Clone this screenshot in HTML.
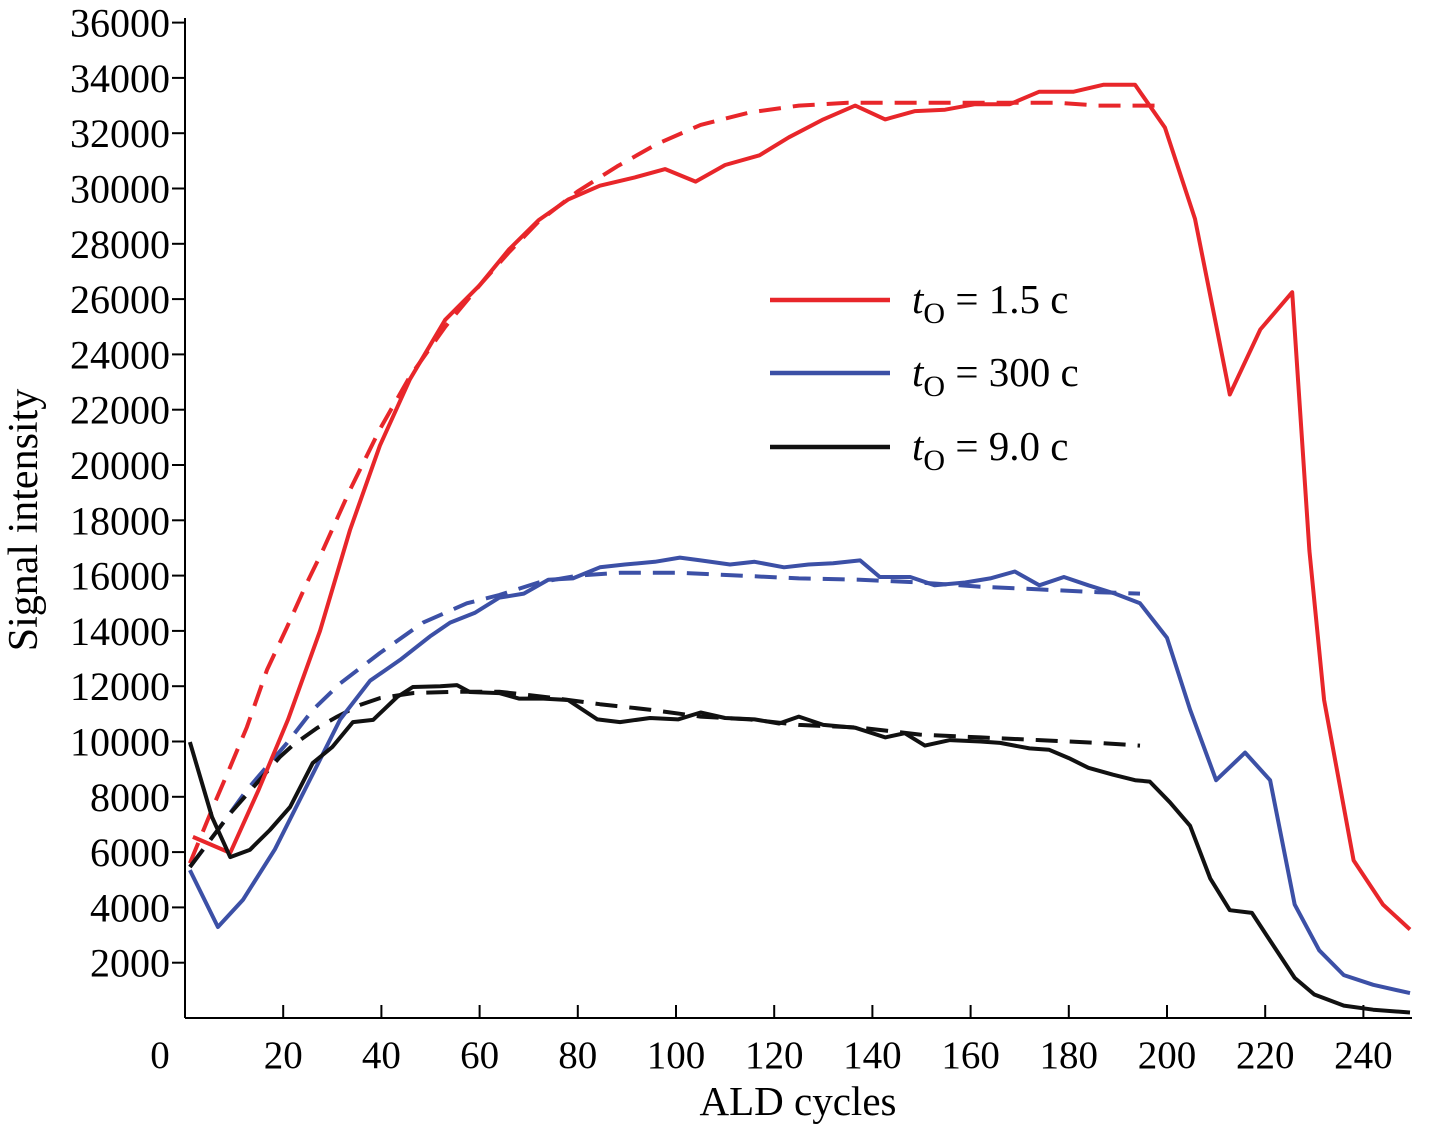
<!DOCTYPE html>
<html><head><meta charset="utf-8"><style>
html,body{margin:0;padding:0;background:#fff;}
svg{display:block;font-family:"Liberation Serif",serif;}
</style></head><body>
<svg id="chart" width="1429" height="1128"></svg>
<script>
const xTicks=[0,20,40,60,80,100,120,140,160,180,200,220,240];
const yTicks=[2000,4000,6000,8000,10000,12000,14000,16000,18000,20000,22000,24000,26000,28000,30000,32000,34000,36000];
const redSolidX=[1.6,9.2,15,21,27.5,33.6,39.7,45.8,53,60,66,72,78,84.5,91.6,97.8,104,110,117,123,130,136.5,142.6,148.7,154.8,160.9,168,174,181,187,193.5,199.6,205.7,209.8,212.8,219,225.5,229,232,238,244,249.5];
const redSolidY=[6550,5970,8250,10800,14000,17650,20700,23100,25250,26500,27800,28850,29600,30100,30400,30700,30250,30850,31200,31850,32500,33000,32500,32800,32850,33050,33050,33500,33500,33750,33750,32200,28900,25250,22550,24900,26250,16900,11500,5700,4100,3200];
const redFitX=[1,5.7,9.2,12.6,16.7,20.8,24.8,28.1,33.6,39.7,45.8,53,60,66,72,80,88,96,105,115,125,135,145.6,166,178,186,199.6];
const redFitY=[5600,7630,9080,10520,12590,14140,15730,16930,19100,21300,23200,25000,26500,27700,28800,29900,30800,31600,32300,32750,33000,33100,33100,33100,33100,33000,33000];
const blueSolidX=[1,6.7,11.8,18.3,24.4,31.6,37.7,43.8,49.9,54,59,64,69,74,79,84.5,89.6,95.7,100.8,105,111,116,122,127,132,137.5,141.5,147.7,152.7,158.9,164,169,174,179,184,189.4,194.5,200,204.7,210,215.9,221,226,231,236,242,249.5];
const blueSolidY=[5350,3290,4270,6100,8250,10800,12200,12950,13800,14300,14650,15200,15350,15850,15900,16300,16400,16500,16650,16550,16400,16500,16300,16400,16450,16550,15950,15950,15650,15750,15900,16150,15650,15950,15650,15350,15000,13750,11150,8600,9600,8600,4100,2450,1550,1200,900];
const blueFitX=[1,7.1,12.6,20.8,26,31.6,39.7,48.5,57.4,64,72,80,88.6,100.8,113,125,137.5,149.7,162,174,186,194.5];
const blueFitY=[5460,6900,8250,9950,11140,12100,13200,14300,15000,15300,15750,16000,16100,16100,16000,15900,15850,15750,15600,15500,15400,15350];
const blackSolidX=[1,5.5,9.2,13.2,17.3,21.4,26,30,34.2,38.3,43.2,46.4,52,55.4,58,64,68,73,78,84,88.6,94.7,100.4,105,110,116,121,125,130,136.5,142.6,146.6,150.7,155.8,162,166,172,176,180,184,189,193.5,196.5,200.6,204.7,208.8,212.8,217.3,221,226,230,236,242,249.5];
const blackSolidY=[9980,7270,5820,6080,6800,7630,9220,9800,10700,10780,11610,11970,12000,12040,11790,11750,11550,11550,11500,10800,10700,10850,10800,11050,10850,10800,10650,10900,10600,10500,10150,10300,9850,10050,10000,9950,9750,9700,9400,9050,8800,8600,8550,7800,6950,5050,3900,3800,2800,1450,850,450,300,200];
const blackFitX=[1,7.1,9.2,19.3,22,26.9,31,35.6,39.7,46.4,55.4,64,74,84.5,94.7,105,115,125,137.5,149.7,162,174,186,194.5];
const blackFitY=[5460,6900,7400,9440,9870,10490,10900,11320,11570,11750,11800,11800,11600,11350,11150,10900,10800,10600,10500,10250,10150,10050,9950,9850];

const X0=185,XS=4.91,Y0=1018,YS=55.3/2000;
const sx=v=>X0+v*XS, sy=v=>Y0-v*YS;
const svg=document.getElementById('chart');
const NS='http://www.w3.org/2000/svg';
function mk(t,a,p){const e=document.createElementNS(NS,t);for(const k in a)e.setAttribute(k,a[k]);(p||svg).appendChild(e);return e;}

const axes=mk('g',{});


const ya=mk('line',{x1:X0,y1:Y0,x2:X0,y2:18,stroke:'#000','stroke-width':2},axes);


const xa=mk('line',{x1:X0,y1:Y0,x2:1412,y2:Y0,stroke:'#000','stroke-width':2},axes);


yTicks.forEach(v=>{
  mk('line',{x1:X0-13,y1:sy(v),x2:X0,y2:sy(v),stroke:'#000','stroke-width':2},axes);
  const t=mk('text',{x:170,y:sy(v)+14,'text-anchor':'end','font-size':40},axes);
  t.textContent=v;
  
  
});
xTicks.forEach(v=>{
  if(v>0)mk('line',{x1:sx(v),y1:Y0,x2:sx(v),y2:Y0-13,stroke:'#000','stroke-width':2},axes);
  const t=mk('text',{x:v===0?160:sx(v),y:1068,'text-anchor':'middle','font-size':39},axes);
  t.textContent=v;
  
  
});
const xt=mk('text',{x:798,y:1115,'text-anchor':'middle','font-size':41});
xt.textContent='ALD cycles';


const yt=mk('text',{x:0,y:0,'text-anchor':'middle','font-size':42,transform:'translate(37,520) rotate(-90)'});
yt.textContent='Signal intensity';



function series(xs,ys,color,dash,name){
  const d=xs.map((x,i)=>(i?'L':'M')+sx(x).toFixed(1)+','+sy(ys[i]).toFixed(1)).join(' ');
  const p=mk('path',{d:d,fill:'none',stroke:color,'stroke-width':4,'stroke-linejoin':'round'});
  if(dash)p.setAttribute('stroke-dasharray','22,12');
  
  
}
const RED='#e8262a',BLUE='#3c50a6',BLK='#111';
series(redFitX,redFitY,RED,true,'red-fit-line');
series(blueFitX,blueFitY,BLUE,true,'blue-fit-line');
series(blackFitX,blackFitY,BLK,true,'black-fit-line');
series(redSolidX,redSolidY,RED,false,'red-series-line');
series(blueSolidX,blueSolidY,BLUE,false,'blue-series-line');
series(blackSolidX,blackSolidY,BLK,false,'black-series-line');

const leg=[['1.5 c',RED,300],['300 c',BLUE,373],['9.0 c',BLK,447]];
leg.forEach(l=>{
  const g=mk('g',{});
  
  
  mk('line',{x1:770,y1:l[2],x2:890,y2:l[2],stroke:l[1],'stroke-width':4.5},g);
  const t=mk('text',{x:912,y:l[2]+13,'font-size':41},g);
  t.innerHTML='<tspan font-style="italic">t</tspan><tspan font-size="30" dy="10">O</tspan><tspan dy="-10"> = '+l[0]+'</tspan>';
});
</script>
</body></html>
